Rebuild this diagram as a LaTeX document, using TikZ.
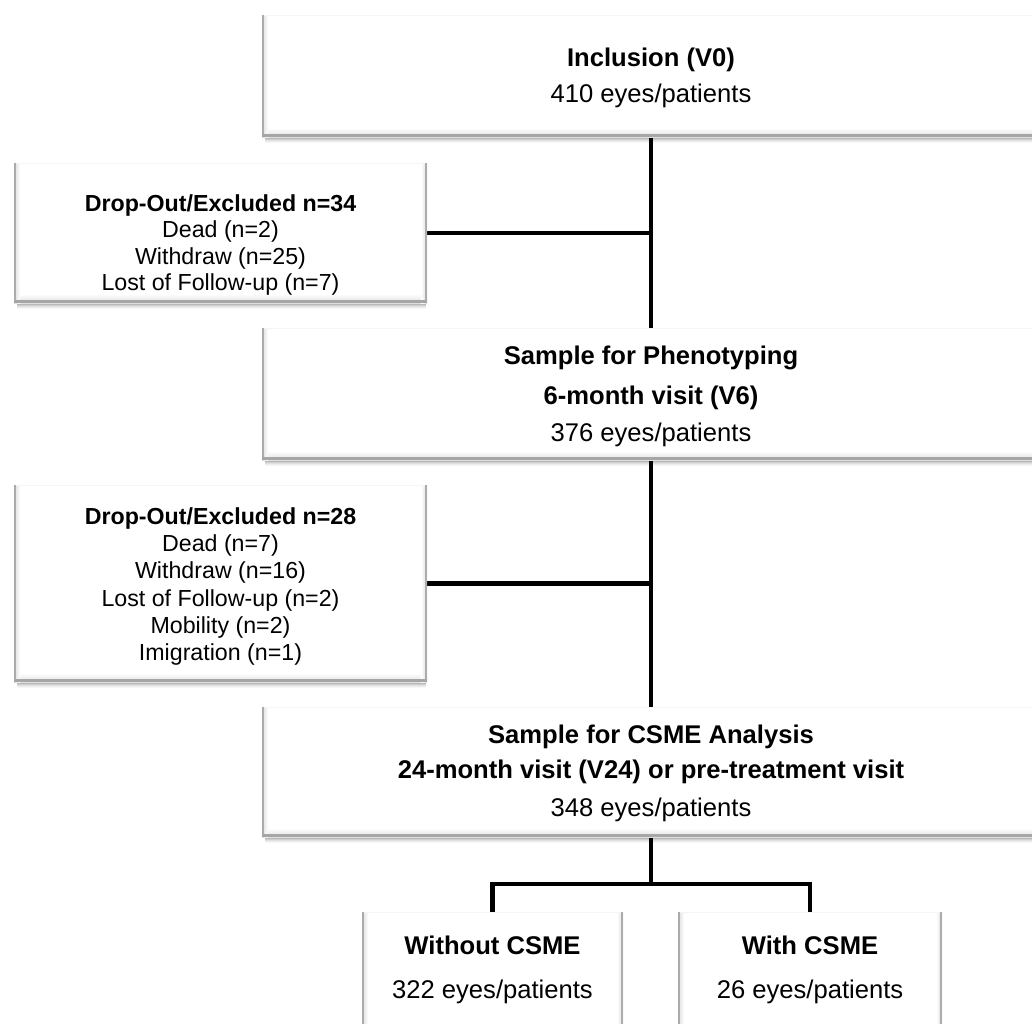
\documentclass[tikz,border=0pt]{standalone}
\usepackage{fontspec}
\setmainfont{Liberation Sans}
\pgfdeclarelayer{background}
\pgfsetlayers{background,main}

\tikzset{
  panel/.style={fill=white, draw=none, inner sep=0pt, outer sep=0pt},
  link/.style={line width=4.6pt, black, line join=miter},
  bigtext/.style={anchor=base, inner sep=0pt, font=\fontsize{25.6}{30}\selectfont},
  bigbold/.style={anchor=base, inner sep=0pt, font=\fontsize{25.6}{30}\selectfont\bfseries},
  smalltext/.style={anchor=base, inner sep=0pt, font=\fontsize{23.2}{28}\selectfont},
  smallbold/.style={anchor=base, inner sep=0pt, font=\fontsize{23.2}{28}\selectfont\bfseries},
}

% bevelled edges and soft bottom shadow of a panel node
\newcommand\panelbevel[1]{%
  \foreach \k/\op in {1/0.38,2/0.28,3/0.19,4/0.12,5/0.07,6/0.03}{%
    \draw[black, opacity=\op, line width=1pt]
      ([xshift=3pt, yshift=-\k pt+0.5pt]#1.south west) --
      ([xshift=-1pt, yshift=-\k pt+0.5pt]#1.south east);
  }%
  \shade[top color=white, bottom color=gray!25]
    ([yshift=9pt]#1.south west) rectangle (#1.south east);
  \shade[left color=gray!28, right color=white]
    (#1.south west) rectangle ([xshift=6pt]#1.north west);
  \shade[left color=white, right color=gray!28]
    ([xshift=-6pt]#1.south east) rectangle (#1.north east);
  \draw[gray!8, line width=1pt]
    ([yshift=-0.5pt]#1.north west) -- ([yshift=-0.5pt]#1.north east);
  \draw[gray!65, line width=2pt]
    ([xshift=1pt]#1.south west) -- ([xshift=1pt]#1.north west);
  \draw[gray!65, line width=2pt]
    ([xshift=-1pt]#1.south east) -- ([xshift=-1pt]#1.north east);
  \draw[gray!70, line width=3pt]
    ([yshift=1.5pt]#1.south west) -- ([yshift=1.5pt]#1.south east);
}

\begin{document}
\begin{tikzpicture}[x=1pt, y=-1pt]
\clip (0,0) rectangle (1032,1023);

% panels
\node[panel, minimum width=778pt, minimum height=122pt] (incl)    at (651,76)    {};
\node[panel, minimum width=413pt, minimum height=140pt] (drop1)   at (220.5,233) {};
\node[panel, minimum width=778pt, minimum height=132pt] (pheno)   at (651,394)   {};
\node[panel, minimum width=413pt, minimum height=197pt] (drop2)   at (220.5,583.5) {};
\node[panel, minimum width=778pt, minimum height=130pt] (csme)    at (651,772)   {};
\node[panel, minimum width=261pt, minimum height=128pt] (without) at (492.5,976) {};
\node[panel, minimum width=264pt, minimum height=128pt] (with)    at (810,976)   {};

\foreach \p in {incl,drop1,pheno,drop2,csme,without,with}{\panelbevel{\p}}

% page background and connectors behind the panels
\begin{pgfonlayer}{background}
  \fill[white] (0,0) rectangle (1032,1023);
  \draw[link] (incl.south) -- (pheno.north);
  \draw[link] (drop1.east) -- (drop1.east -| incl.south);
  \draw[link] (pheno.south) -- (csme.north);
  \draw[link] (drop2.east) -- (drop2.east -| pheno.south);
  \coordinate (fork) at (651,884);
  \draw[link] (csme.south) -- (fork);
  \draw[link] (without.north) |- (fork) -| (with.north);
\end{pgfonlayer}

% texts
\node[bigbold]  (inclA) at (651,66)    {Inclusion (V0)};
\node[bigtext]  (inclB) at (651,102.7) {410 eyes/patients};

\node[smallbold] (dropA) at (220.5,211) {Drop-Out/Excluded n=34};
\node[smalltext] (dropB) at (220.5,237) {Dead (n=2)};
\node[smalltext] (dropC) at (220.5,264) {Withdraw (n=25)};
\node[smalltext] (dropD) at (220.5,290) {Lost of Follow-up (n=7)};

\node[bigbold]  (phenoA) at (651,364) {Sample for Phenotyping};
\node[bigbold]  (phenoB) at (651,404) {6-month visit (V6)};
\node[bigtext]  (phenoC) at (651,441) {376 eyes/patients};

\node[smallbold] (exclA) at (220.5,524) {Drop-Out/Excluded n=28};
\node[smalltext] (exclB) at (220.5,551) {Dead (n=7)};
\node[smalltext] (exclC) at (220.5,578) {Withdraw (n=16)};
\node[smalltext] (exclD) at (220.5,606) {Lost of Follow-up (n=2)};
\node[smalltext] (exclE) at (220.5,633) {Mobility (n=2)};
\node[smalltext] (exclF) at (220.5,660) {Imigration (n=1)};

\node[bigbold]  (csmeA) at (651,743) {Sample for CSME Analysis};
\node[bigbold]  (csmeB) at (651,778) {24-month visit (V24) or pre-treatment visit};
\node[bigtext]  (csmeC) at (651,816) {348 eyes/patients};

\node[bigbold]  (withoutA) at (492.5,954.6) {Without CSME};
\node[bigtext]  (withoutB) at (492.5,998)   {322 eyes/patients};
\node[bigbold]  (withA)    at (810,954.6)   {With CSME};
\node[bigtext]  (withB)    at (810,998)     {26 eyes/patients};
\end{tikzpicture}
\end{document}
